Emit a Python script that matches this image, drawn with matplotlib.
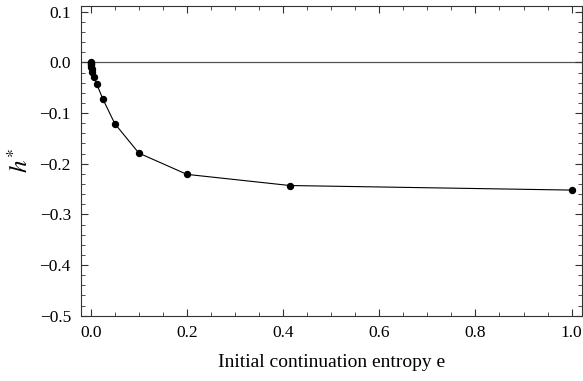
import matplotlib.pyplot as plt
from matplotlib.ticker import MultipleLocator

plt.rcParams['font.family'] = ['Liberation Serif', 'DejaVu Serif']
plt.rcParams['mathtext.fontset'] = 'stix'

# Initial continuation entropy vs h*
entropy = [0.0, 0.0001, 0.0002, 0.0004, 0.0008, 0.0016, 0.003125, 0.00625,
           0.0125, 0.025, 0.05, 0.1, 0.2, 0.4142, 1.0]
h_star = [0.0, -0.002, -0.004, -0.006, -0.009, -0.013, -0.019, -0.028,
          -0.043, -0.072, -0.121, -0.179, -0.221, -0.243, -0.252]

fig = plt.figure(figsize=(5.83, 3.81), dpi=100)
ax = fig.add_axes([0.1384, 0.1714, 0.8594, 0.8136])

ax.axhline(0, color='#555555', lw=0.9, zorder=1)
ax.plot(entropy, h_star, color='black', lw=0.8, marker='o', ms=4.3,
        markerfacecolor='black', markeredgecolor='black', zorder=3)

ax.set_xlim(-0.021, 1.021)
ax.set_ylim(-0.5, 0.112)
ax.xaxis.set_major_locator(MultipleLocator(0.2))
ax.xaxis.set_minor_locator(MultipleLocator(0.05))
ax.yaxis.set_major_locator(MultipleLocator(0.1))
ax.yaxis.set_minor_locator(MultipleLocator(0.02))
ax.xaxis.set_major_formatter(plt.FuncFormatter(lambda v, p: f"{v:.1f}"))
ax.yaxis.set_major_formatter(plt.FuncFormatter(
    lambda v, p: f"{v:.1f}".replace('-', '\u2212') if abs(v) > 1e-9 else "0.0"))

ax.tick_params(which='both', direction='in', top=True, right=True,
               color='#333333', labelsize=12.5, pad=7)
ax.tick_params(which='major', length=5, width=0.8)
ax.tick_params(which='minor', length=3, width=0.6)
for s in ax.spines.values():
    s.set_color('#333333')
    s.set_linewidth(0.8)

ax.set_xlabel("Initial continuation entropy e", fontsize=14, labelpad=9)
ax.set_ylabel(r"$h^{\!*}$", fontsize=18, labelpad=5)

fig.savefig("out.png", dpi=100)
